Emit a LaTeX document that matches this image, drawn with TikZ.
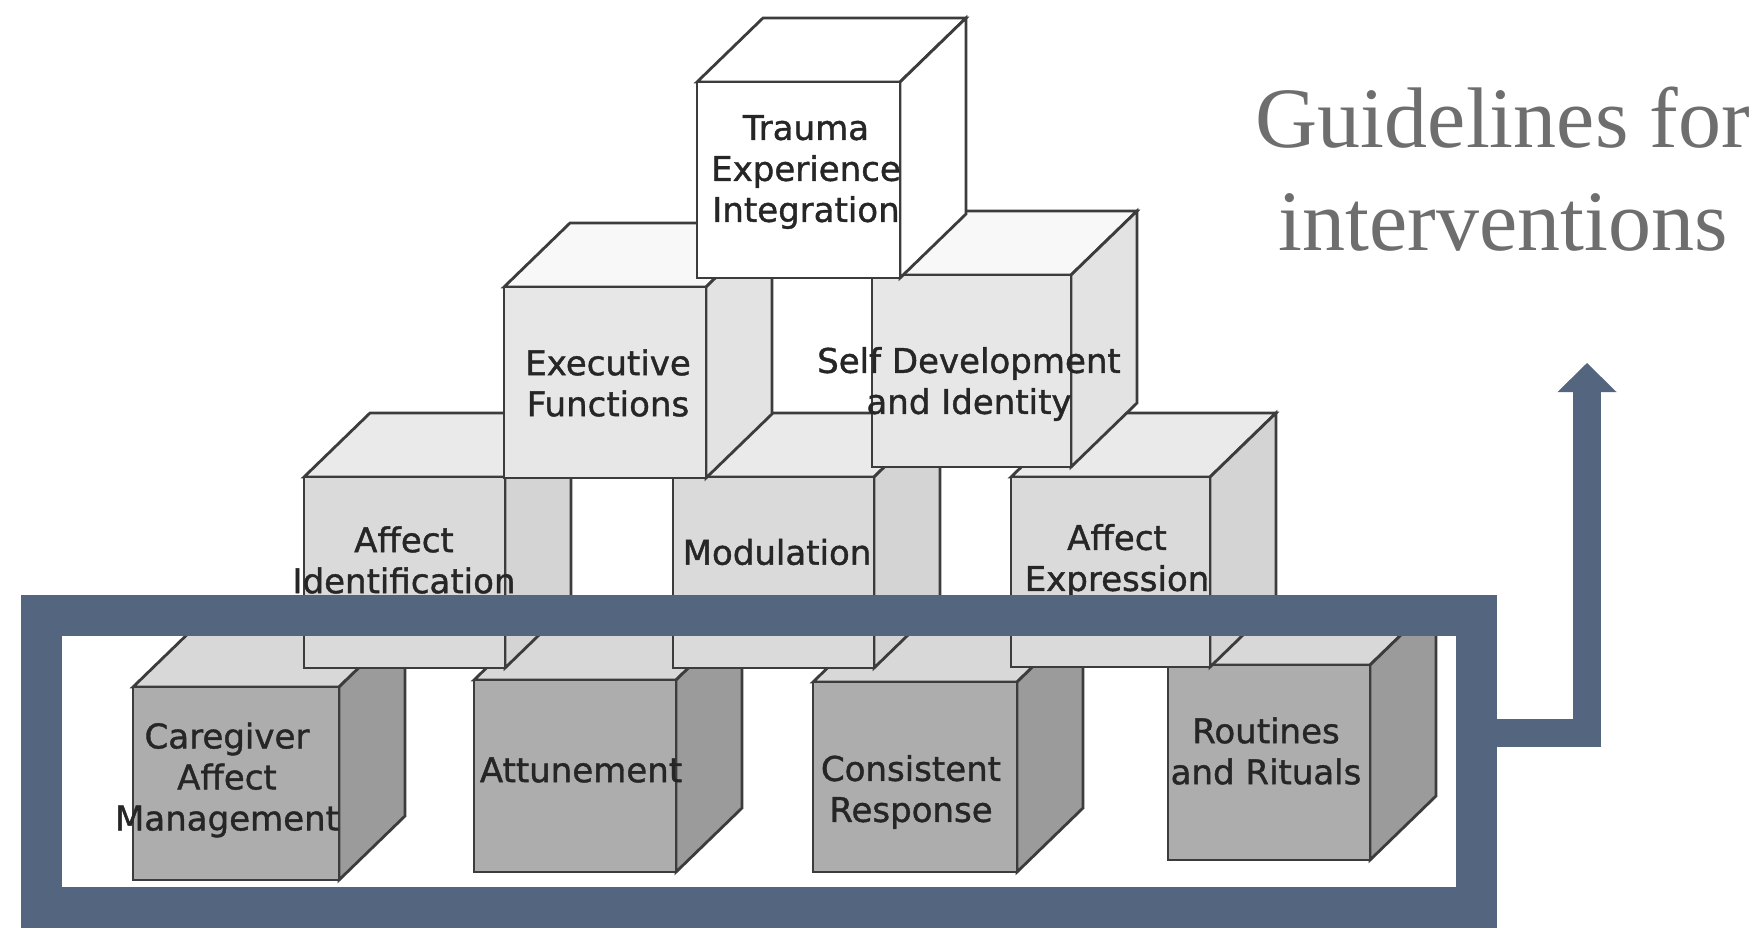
\documentclass[tikz,border=0pt]{standalone}
\usepackage{fontspec}
\setmainfont{Liberation Serif}
\newfontfamily\cubefont[FakeBold=1.2]{DejaVu Sans}
\usetikzlibrary{fit}

\definecolor{frameblue}{HTML}{546580}
\definecolor{edgegray}{HTML}{3C3C3C}
\definecolor{labelgray}{HTML}{262626}
\definecolor{guidegray}{HTML}{6E6E6E}
% bottom row shades
\definecolor{botfront}{HTML}{ADADAD}
\definecolor{botside}{HTML}{9B9B9B}
\definecolor{bottop}{HTML}{D8D8D8}
% middle row shades
\definecolor{midfront}{HTML}{DADADA}
\definecolor{midside}{HTML}{D4D4D4}
\definecolor{midtop}{HTML}{EAEAEA}
% upper row shades
\definecolor{upfront}{HTML}{E7E7E7}
\definecolor{upside}{HTML}{E3E3E3}
\definecolor{uptop}{HTML}{F8F8F8}

\tikzset{
  cubeedge/.style={draw=edgegray, line width=1.4pt, line join=miter},
  cubelabel/.style={font=\cubefont\fontsize{17}{20.5}\selectfont, text=labelgray,
    align=center, inner sep=0pt},
  guidetext/.style={font=\fontsize{43}{51.5}\selectfont, text=guidegray,
    anchor=base, inner sep=0pt},
  bluebar/.style={draw=frameblue, line width=14pt, line join=miter},
}

% #1 name, #2 left x, #3 top y, #4 right x, #5 bottom y (front face),
% #6 front fill, #7 top fill, #8 side fill; depth offset is (66,-64)
\newcommand{\drawcube}[8]{%
  \filldraw[cubeedge, fill=#7] (#2,#3) -- ++(66,-64) -- ({#4+66},{#3-64}) -- (#4,#3) -- cycle;
  \filldraw[cubeedge, fill=#8] (#4,#3) -- ({#4+66},{#3-64}) -- ({#4+66},{#5-64}) -- (#4,#5) -- cycle;
  \node[cubeedge, fill=#6, inner sep=0pt, fit={(#2,#3) (#4,#5)}] (#1) {};
}

\begin{document}
\begin{tikzpicture}[x=0.5pt, y=-0.5pt]
  \useasboundingbox (0,0) rectangle (1761,927);
  \fill[white] (0,0) rectangle (1761,927);

  % bottom row
  \drawcube{care}{133}{687}{339}{880}{botfront}{bottop}{botside}
  \node[cubelabel] (care-label) at (227,780) {Caregiver\\Affect\\Management};
  \drawcube{attune}{474}{680}{676}{872}{botfront}{bottop}{botside}
  \node[cubelabel] (attune-label) at (581,770) {Attunement};
  \drawcube{consist}{813}{682}{1017}{872}{botfront}{bottop}{botside}
  \node[cubelabel] (consist-label) at (911,792) {Consistent\\Response};
  \drawcube{routine}{1168}{665}{1370}{860}{botfront}{bottop}{botside}
  \node[cubelabel] (routine-label) at (1266,751) {Routines\\and Rituals};

  % middle row
  \drawcube{affid}{304}{477}{505}{668}{midfront}{midtop}{midside}
  \node[cubelabel] (affid-label) at (404,560) {Affect\\Identification};
  \drawcube{modul}{673}{477}{874}{668}{midfront}{midtop}{midside}
  \node[cubelabel] (modul-label) at (777,552) {Modulation};
  \drawcube{affex}{1011}{477}{1210}{667}{midfront}{midtop}{midside}
  \node[cubelabel] (affex-label) at (1117,561) {Affect\\Expression};

  % upper row
  \drawcube{exec}{504}{287}{706}{478}{upfront}{uptop}{upside}
  \node[cubelabel] (exec-label) at (608,383) {Executive\\Functions};
  \drawcube{selfdev}{872}{275}{1071}{467}{upfront}{uptop}{upside}
  \node[cubelabel] (selfdev-label) at (969,384) {Self Development\\and Identity};

  % top block
  \drawcube{trauma}{697}{82}{900}{278}{white}{white}{white}
  \node[cubelabel] (trauma-label) at (806,172) {Trauma\\Experience\\Integration};

  % frame around the foundation row
  \node[draw=frameblue, line width=20.5pt, inner sep=0pt,
        fit={(41,615.5) (1476.5,907.5)}] (frame) {};

  % upward arrow
  \coordinate (arrowbend) at (1587,733);
  \coordinate (arrowbase) at (1587,392);
  \coordinate (arrowtip) at (1587,363);
  \draw[bluebar] (frame.east |- arrowbend) -- (arrowbend) -- (arrowbase);
  \fill[frameblue] (arrowtip) -- ([xshift=-14.75pt]arrowbase) -- ([xshift=14.75pt]arrowbase) -- cycle;

  % heading
  \node[guidetext] (guide1) at (1503,147) {Guidelines for};
  \node[guidetext] (guide2) at (1503,250) {interventions};
\end{tikzpicture}
\end{document}
